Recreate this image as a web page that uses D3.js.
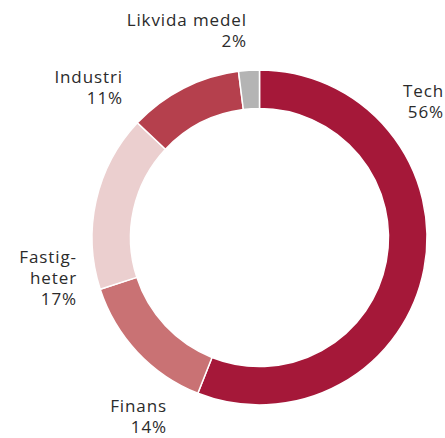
<!DOCTYPE html>
<html>
<head>
<meta charset="utf-8">
<script src="https://cdn.jsdelivr.net/npm/d3@7"></script>
<style>
  body { margin: 0; background: #fff; }
  text { font-family: "Open Sans", sans-serif; font-size: 17px; letter-spacing: 0.9px; fill: #2b2b2b; }
</style>
</head>
<body>
<svg id="chart" width="445" height="438"></svg>
<script>
// sector shares, clockwise from the top
const sectors = ["Tech", "Finans", "Fastigheter", "Industri", "Likvida medel"];
const shares = [56, 14, 17, 11, 2];
const colors = ["#a51839", "#c97274", "#ebcfcf", "#b5404d", "#b4b4b4"];
// label lines as printed
const labelLines = [["Tech", "56%"], ["Finans", "14%"], ["Fastig-", "heter", "17%"], ["Industri", "11%"], ["Likvida medel", "2%"]];

const svg = d3.select("#chart");
const cx = 259.5, cy = 237.5;
const outerR = 167.5, innerR = 129;

let pie = d3.pie().sort(null).value(d => d)(shares);
let arc = d3.arc().innerRadius(innerR).outerRadius(outerR);

let g = svg.append("g").attr("transform", `translate(${cx},${cy})`);
g.selectAll("path").data(pie).join("path")
  .attr("d", arc)
  .attr("fill", (d, i) => colors[i])
  .attr("stroke", "#fff")
  .attr("stroke-width", 1.5);

// where each label block ends (right edge) and its first baseline
const labelPos = [[444, 97], [167, 412], [77, 263], [123, 83], [247, 26]];
const lineH = 21;

labelLines.forEach((lines, i) => {
  let t = svg.append("text")
    .attr("text-anchor", "end")
    .attr("x", labelPos[i][0])
    .attr("y", labelPos[i][1]);
  lines.forEach((s, j) => {
    t.append("tspan").attr("x", labelPos[i][0]).attr("dy", j == 0 ? 0 : lineH).text(s);
  });
});
</script>
</body>
</html>
